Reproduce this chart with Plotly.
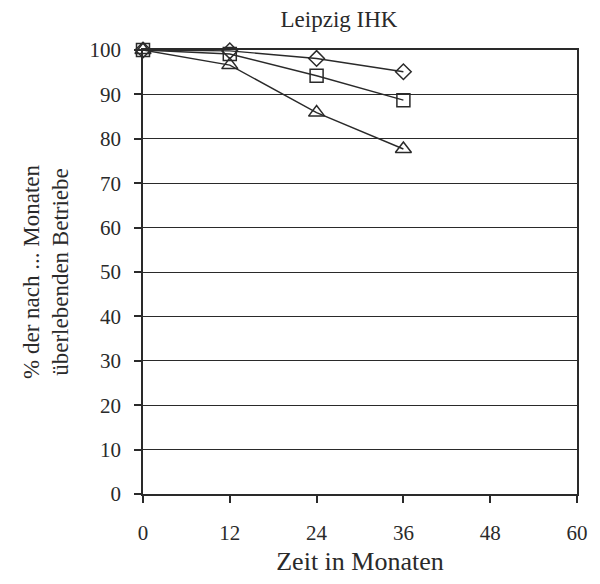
import plotly.graph_objects as go

months = [0, 12, 24, 36]
series_diamond = [100, 99.8, 98.1, 95.1]
series_square = [100, 99.1, 94.2, 88.7]
series_triangle = [100, 96.6, 85.9, 77.7]
x_ticks = [0, 12, 24, 36, 48, 60]
y_ticks = [0, 10, 20, 30, 40, 50, 60, 70, 80, 90, 100]

FONT = "Liberation Serif"
INK = "#2a2a2a"
fig = go.Figure()
for vals, sym, sz in [(series_diamond, "diamond-open", 12),
                      (series_square, "square-open", 13),
                      (series_triangle, "triangle-up-open", 14)]:
    fig.add_trace(go.Scatter(
        x=months, y=vals, mode="lines+markers",
        line=dict(color=INK, width=1.4),
        marker=dict(symbol=sym, size=sz, color=INK, line=dict(width=1.5, color=INK)),
        cliponaxis=False, showlegend=False))

fig.update_layout(
    width=600, height=584,
    margin=dict(l=143, r=18, t=50, b=90),
    paper_bgcolor="white", plot_bgcolor="white",
    font=dict(family=FONT, color=INK, size=21),
    title=dict(text="Leipzig IHK", x=0.565, xanchor="center", y=1 - 19 / 584, yanchor="middle",
               font=dict(family=FONT, size=23, color=INK)),
    xaxis=dict(range=[0, 60], tickvals=x_ticks, ticks="outside", ticklen=7, tickwidth=1.5,
               tickcolor=INK, showline=True, linecolor=INK, linewidth=1.5, mirror=True,
               showgrid=False, zeroline=False, tickfont=dict(size=21), ticklabelstandoff=12,
               title=dict(text="Zeit in Monaten", font=dict(size=26), standoff=8)),
    yaxis=dict(range=[0, 100], tickvals=y_ticks, ticks="outside", ticklen=7, tickwidth=1.5,
               tickcolor=INK, showline=True, linecolor=INK, linewidth=1.5, mirror=True,
               showgrid=True, gridcolor=INK, gridwidth=1.4, zeroline=False,
               tickfont=dict(size=21), ticklabelstandoff=9,
               title=dict(text="% der nach ... Monaten<br>überlebenden Betriebe",
                          font=dict(size=23), standoff=14)),
)
fig.write_html("out.html")
